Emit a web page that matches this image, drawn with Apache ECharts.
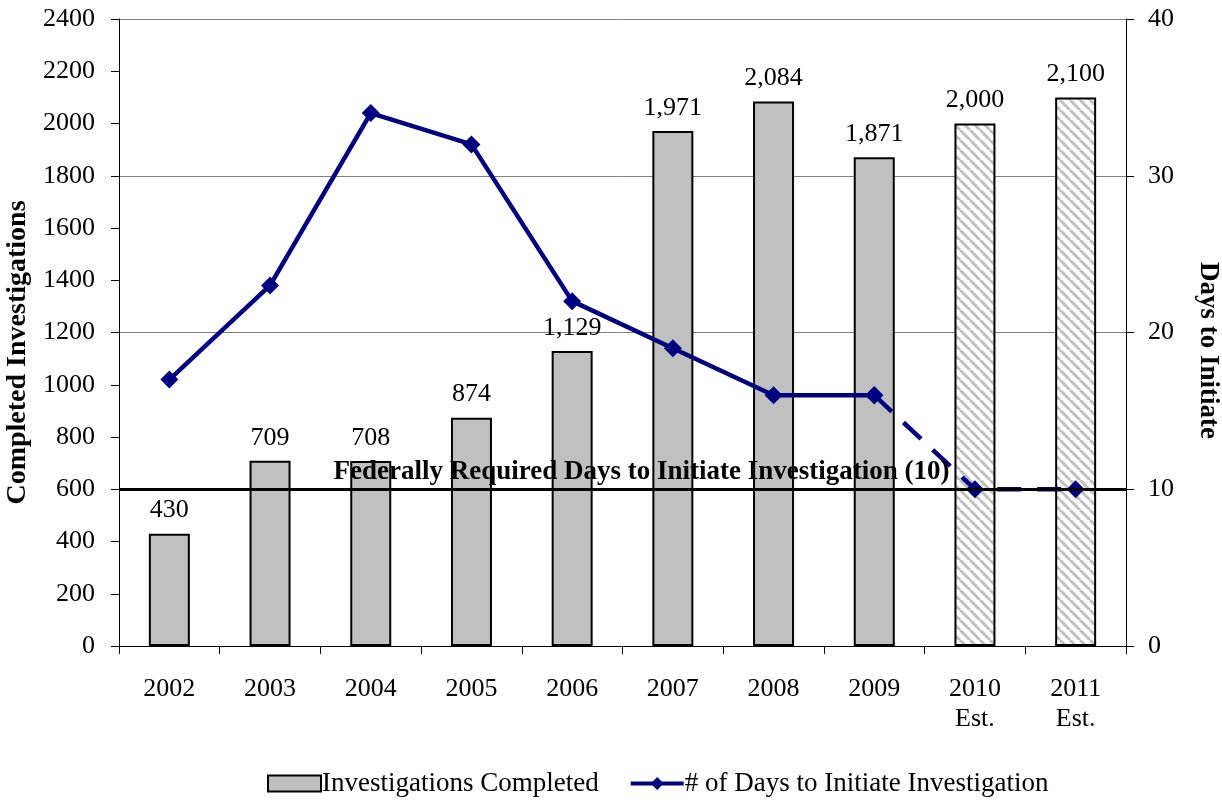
<!DOCTYPE html>
<html>
<head>
<meta charset="utf-8">
<script src="https://cdn.jsdelivr.net/npm/echarts@6/dist/echarts.min.js"></script>
<style>
html,body{margin:0;padding:0;background:#fff;}
#c{width:1222px;height:804px;}
</style>
</head>
<body>
<div id="c"></div>
<script>
const categories = ['2002','2003','2004','2005','2006','2007','2008','2009','2010\nEst.','2011\nEst.'];
const estimated = [false,false,false,false,false,false,false,false,true,true];
const investigations = [430,709,708,874,1129,1971,2084,1871,2000,2100];
const days = [17,23,34,32,22,19,16,16,10,10];
const requiredDays = 10;
const requiredLabel = 'Federally Required Days to Initiate Investigation (10)';
const leftTicks = {min:0,max:2400,interval:200};
const rightTicks = {min:0,max:40,interval:10};

const FONT = '"Liberation Serif", "Times New Roman", serif';

function hatch(){
  const s = 10;
  const cv = document.createElement('canvas');
  cv.width = s; cv.height = s;
  const ctx = cv.getContext('2d');
  ctx.fillStyle = '#ffffff';
  ctx.fillRect(0,0,s,s);
  ctx.strokeStyle = '#c0c0c0';
  ctx.lineWidth = 3;
  for (const k of [-s,0,s]){
    ctx.beginPath();
    ctx.moveTo(k,0);
    ctx.lineTo(k+s,s);
    ctx.stroke();
  }
  return {image: cv, repeat: 'repeat'};
}
const hatchFill = hatch();

const lastActual = estimated.indexOf(true) - 1;
const solidDays = days.map((v,i)=> i<=lastActual ? v : null);
const dashedDays = days.map((v,i)=> i>=lastActual ? v : null);

const barData = investigations.map((v,i)=> estimated[i]
  ? {value:v, itemStyle:{color:hatchFill, borderColor:'#000', borderWidth:2}}
  : {value:v});

const lineName = '# of Days to Initiate Investigation';
const barName = 'Investigations Completed';

const chart = echarts.init(document.getElementById('c'));
chart.setOption({
  animation:false,
  textStyle:{fontFamily:FONT, color:'#000'},
  grid:{left:119, right:96, top:19, bottom:158, outerBoundsMode:'none', containLabel:false},
  legend:{
    bottom:2, left:262,
    data:[
      {name:barName, icon:'rect', itemStyle:{borderColor:'#000', borderWidth:2}},
      {name:lineName, lineStyle:{width:4}}
    ],
    itemWidth:53, itemHeight:16, itemGap:30,
    textStyle:{fontFamily:FONT, fontSize:27, color:'#000', padding:[0,0,0,-4]}
  },
  xAxis:{
    type:'category', data:categories,
    axisLine:{lineStyle:{color:'#000', width:1}},
    axisTick:{show:true, length:8, lineStyle:{color:'#000'}, alignWithLabel:false},
    axisLabel:{fontFamily:FONT, fontSize:26, color:'#000', margin:28, lineHeight:30}
  },
  yAxis:[
    {
      type:'value', min:leftTicks.min, max:leftTicks.max, interval:leftTicks.interval,
      name:'Completed Investigations', nameLocation:'middle', nameGap:84, nameRotate:90,
      nameTextStyle:{fontFamily:FONT, fontSize:28, fontWeight:'bold', color:'#000', padding:[0,40,0,0]},
      axisLine:{show:true, lineStyle:{color:'#000'}},
      axisTick:{show:true, length:8, lineStyle:{color:'#000'}},
      axisLabel:{fontFamily:FONT, fontSize:26, color:'#000', margin:24, formatter:v=>String(v)},
      splitLine:{show:false}
    },
    {
      type:'value', min:rightTicks.min, max:rightTicks.max, interval:rightTicks.interval,
      position:'right',
      name:'Days to Initiate', nameLocation:'middle', nameGap:68, nameRotate:-90,
      nameTextStyle:{fontFamily:FONT, fontSize:27, fontWeight:'bold', color:'#000', padding:[0,0,0,36]},
      axisLine:{show:true, lineStyle:{color:'#000'}},
      axisTick:{show:true, length:8, lineStyle:{color:'#000'}},
      axisLabel:{fontFamily:FONT, fontSize:26, color:'#000', margin:22},
      splitLine:{show:true, lineStyle:{color:'#808080', width:1}}
    }
  ],
  series:[
    {
      name:barName, type:'bar', yAxisIndex:0, data:barData, barWidth:41,
      itemStyle:{color:'#c0c0c0', borderColor:'#000', borderWidth:2},
      label:{show:true, position:'top', distance:10, fontFamily:FONT, fontSize:26, color:'#000',
        formatter:p=>p.value.toLocaleString('en-US')},
      z:2
    },
    {
      name:lineName, type:'line', yAxisIndex:1, data:solidDays,
      symbol:'diamond', symbolSize:18,
      lineStyle:{color:'#000080', width:4.5},
      itemStyle:{color:'#000080'},
      z:4,
      markLine:{
        silent:true, symbol:'none',
        lineStyle:{color:'#000', width:3, type:'solid'},
        label:{show:true, position:'middle', formatter:requiredLabel, fontFamily:FONT, fontSize:27,
          fontWeight:'bold', color:'#000', distance:4, padding:[0,0,0,38]},
        data:[{yAxis:requiredDays}]
      }
    },
    {
      name:lineName, type:'line', yAxisIndex:1, data:dashedDays,
      symbol:'diamond', symbolSize:18, showSymbol:true,
      lineStyle:{color:'#000080', width:4.5, type:[24,16]},
      itemStyle:{color:'#000080'},
      z:4
    }
  ]
});
</script>
</body>
</html>
